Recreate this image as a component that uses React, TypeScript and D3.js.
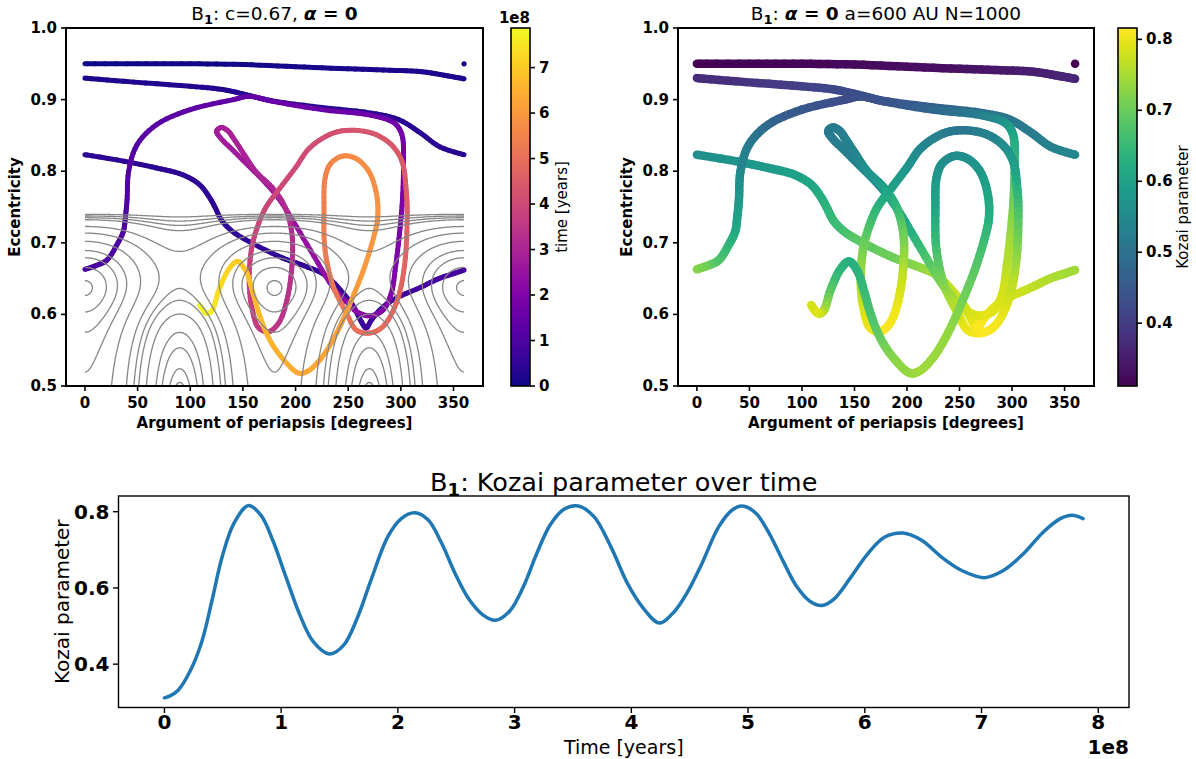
import React from "react";
import * as d3 from "d3";

// ---------------- Data ----------------
// Bottom panel: Kozai parameter vs time (time in units of 1e8 years)
const kozaiTime = [0, 0.043, 0.116, 0.217, 0.32, 0.406, 0.493, 0.594, 0.719, 0.826, 0.928, 1.043, 1.159, 1.275, 1.414, 1.536, 1.652, 1.768, 1.913, 2.029, 2.145, 2.26, 2.377, 2.493, 2.609, 2.725, 2.835, 2.957, 3.072, 3.188, 3.304, 3.42, 3.545, 3.68, 3.826, 3.97, 4.1, 4.241, 4.371, 4.487, 4.603, 4.748, 4.864, 4.951, 5.067, 5.183, 5.299, 5.414, 5.53, 5.632, 5.733, 5.878, 6.023, 6.168, 6.328, 6.487, 6.661, 6.835, 7.023, 7.183, 7.357, 7.53, 7.675, 7.777, 7.87];
const kozaiValue = [0.3115, 0.316, 0.331, 0.38, 0.459, 0.565, 0.68, 0.769, 0.816, 0.791, 0.725, 0.627, 0.53, 0.459, 0.4265, 0.45, 0.521, 0.619, 0.734, 0.782, 0.797, 0.778, 0.716, 0.636, 0.57, 0.53, 0.515, 0.539, 0.601, 0.689, 0.765, 0.806, 0.815, 0.787, 0.707, 0.61, 0.548, 0.508, 0.539, 0.592, 0.663, 0.76, 0.8045, 0.815, 0.796, 0.742, 0.671, 0.605, 0.565, 0.554, 0.57, 0.627, 0.689, 0.733, 0.744, 0.725, 0.68, 0.645, 0.627, 0.645, 0.689, 0.747, 0.782, 0.791, 0.782];

// Top panels: trajectory [argument of periapsis (deg), eccentricity, time (1e8 yr)]
const startPoint = [360, 0.95, 0];
const pass1 = [[0, 0.95, 0.01], [50, 0.95, 0.03], [100, 0.95, 0.05], [150, 0.949, 0.08], [200, 0.946, 0.1], [250, 0.943, 0.12], [290, 0.941, 0.14], [320, 0.939, 0.16], [345, 0.933, 0.175], [360, 0.929, 0.19]];
const pass2 = [[0, 0.93, 0.2], [37, 0.9255, 0.22], [100, 0.9185, 0.25], [131, 0.914, 0.27], [150, 0.908, 0.28], [175, 0.899, 0.295], [225, 0.889, 0.32], [272, 0.881, 0.345], [298, 0.872, 0.36], [319, 0.853, 0.37], [337, 0.834, 0.38], [360, 0.823, 0.39]];
const pass3 = [[0, 0.823, 0.4], [37, 0.814, 0.41], [68, 0.8045, 0.42], [93, 0.795, 0.43], [109, 0.781, 0.44], [118.6, 0.7626, 0.45], [124, 0.748, 0.46], [130, 0.731, 0.47], [140, 0.716, 0.48], [156, 0.7016, 0.5], [187.5, 0.679, 0.52], [208, 0.668, 0.54], [228, 0.655, 0.57], [245, 0.63, 0.6], [255, 0.611, 0.63], [262, 0.591, 0.66], [267, 0.581, 0.7], [272, 0.592, 0.74], [280, 0.606, 0.78], [292, 0.62, 0.82], [319, 0.638, 0.86], [336, 0.65, 0.88], [350, 0.657, 0.89], [360, 0.662, 0.9]];
const pass4 = [
  [0, 0.663, 0.92], [12, 0.669, 0.95], [21, 0.676, 0.98], [31, 0.699, 1.02], [36.5, 0.716, 1.05], [38.5, 0.737, 1.07], [40, 0.76, 1.09], [41.5, 0.8, 1.13], [49.5, 0.837, 1.17], [68, 0.865, 1.23], [100, 0.886, 1.31], [141, 0.9, 1.41], [156, 0.9045, 1.45], [178, 0.8976, 1.5], [225, 0.886, 1.58], [272, 0.878, 1.66], [294, 0.867, 1.71], [301, 0.851, 1.75], [302.5, 0.814, 1.8], [301.5, 0.76, 1.87], [298.7, 0.713, 1.92], [295, 0.667, 1.98], [290.8, 0.629, 2.03], [283, 0.606, 2.08], [270.4, 0.598, 2.15], [257.8, 0.604, 2.22], [250, 0.615, 2.27], [236, 0.637, 2.35], [214, 0.69, 2.45], [195, 0.737, 2.54], [184, 0.762, 2.59], [170, 0.786, 2.64], [155, 0.808, 2.69], [140, 0.83, 2.74], [129, 0.846, 2.78], [125, 0.856, 2.81], [129.5, 0.861, 2.84], [136, 0.856, 2.87], [141, 0.846, 2.9], [150, 0.826, 2.95], [162, 0.8, 3.0], [178, 0.777, 3.06], [190, 0.75, 3.12], [196.5, 0.713, 3.2], [196.5, 0.667, 3.28], [191.8, 0.62, 3.38], [184, 0.588, 3.45], [174.6, 0.576, 3.53], [165, 0.581, 3.6], [159, 0.606, 3.67], [156, 0.643, 3.74], [158, 0.69, 3.81], [164, 0.723, 3.87], [172, 0.75, 3.92], [185, 0.776, 3.98], [200, 0.805, 4.04], [213, 0.832, 4.1], [232, 0.851, 4.17], [248, 0.857, 4.23], [273, 0.853, 4.32], [291, 0.837, 4.4], [301, 0.814, 4.47], [305, 0.775, 4.55], [306, 0.737, 4.62], [303.4, 0.667, 4.72], [295.6, 0.6155, 4.8], [283, 0.583, 4.88], [270.4, 0.574, 4.95], [257.8, 0.578, 5.02], [248.4, 0.6015, 5.1], [235.8, 0.639, 5.2], [228, 0.69, 5.3], [227, 0.749, 5.4], [228, 0.79, 5.47], [233, 0.81, 5.53], [244.4, 0.821, 5.62], [257, 0.818, 5.68], [269.5, 0.8, 5.75], [277, 0.767, 5.82], [278, 0.735, 5.87], [275.1, 0.713, 5.92], [265.7, 0.667, 6.0], [253.1, 0.62, 6.08], [239, 0.574, 6.17], [225, 0.54, 6.25], [212, 0.521, 6.31], [203, 0.518, 6.36], [187.5, 0.5386, 6.47], [175, 0.5657, 6.57], [165.5, 0.6, 6.68], [159.2, 0.632, 6.78], [153, 0.66, 6.88], [145, 0.674, 7.0], [137.2, 0.6644, 7.1], [127.8, 0.6364, 7.3], [120, 0.6038, 7.55], [115.2, 0.6015, 7.68], [108.9, 0.6131, 7.87]
];
const passes = [pass1, pass2, pass3, pass4];

// Ticks
const omegaTicks = [0, 50, 100, 150, 200, 250, 300, 350];
const eccTicks = [0.5, 0.6, 0.7, 0.8, 0.9, 1.0];
const timeCbTicks = [0, 1, 2, 3, 4, 5, 6, 7];
const kozaiCbTicks = [0.4, 0.5, 0.6, 0.7, 0.8];
const timeTicks = [0, 1, 2, 3, 4, 5, 6, 7, 8];
const kozaiTicks = [0.4, 0.6, 0.8];

// Background phase-portrait (gray) curves: levels for librating ovals, upper circulating and lower circulating curves
const ovalLevels = [0.0015, 0.012, 0.026, 0.04, 0.062, 0.086];
const upperLevels = [0.108, 0.133, 0.141, 0.148, 0.155];
const lowerLevels = [0.0995, 0.108, 0.121, 0.135, 0.142, 0.148, 0.1505];
const portraitTheta = 0.4489; // c^2
const portraitE0 = 0.637;
const portraitSaddle = 0.655;

// ---------------- Layout ----------------
const FONT = "'DejaVu Sans', sans-serif";
const LX0 = 66, LX1 = 483, RX0 = 678, RX1 = 1094, TY0 = 28, TY1 = 386;
const LCB0 = 511, LCB1 = 530, RCB0 = 1118, RCB1 = 1137;
const BX0 = 118.5, BX1 = 1129, BY0 = 496, BY1 = 707.5;

// ---------------- Helpers ----------------
function pad(ext: number[]) {
  const r = ext[1] - ext[0];
  return [ext[0] - 0.05 * r, ext[1] + 0.05 * r];
}

function crBezier(p0: number[], p1: number[], p2: number[], p3: number[]) {
  const alpha = 0.5;
  const d01 = Math.hypot(p1[0] - p0[0], p1[1] - p0[1]);
  const d12 = Math.hypot(p2[0] - p1[0], p2[1] - p1[1]);
  const d23 = Math.hypot(p3[0] - p2[0], p3[1] - p2[1]);
  const l01a = Math.pow(d01, alpha), l01_2a = Math.pow(d01, 2 * alpha);
  const l12a = Math.pow(d12, alpha), l12_2a = Math.pow(d12, 2 * alpha);
  const l23a = Math.pow(d23, alpha), l23_2a = Math.pow(d23, 2 * alpha);
  let c1 = [p1[0], p1[1]];
  if (l01a > 1e-9) {
    const a = 2 * l01_2a + 3 * l01a * l12a + l12_2a;
    const n = 3 * l01a * (l01a + l12a);
    c1 = [(p1[0] * a - p0[0] * l12_2a + p2[0] * l01_2a) / n, (p1[1] * a - p0[1] * l12_2a + p2[1] * l01_2a) / n];
  }
  let c2 = [p2[0], p2[1]];
  if (l23a > 1e-9) {
    const b = 2 * l23_2a + 3 * l23a * l12a + l12_2a;
    const m = 3 * l23a * (l23a + l12a);
    c2 = [(p2[0] * b + p1[0] * l23_2a - p3[0] * l12_2a) / m, (p2[1] * b + p1[1] * l23_2a - p3[1] * l12_2a) / m];
  }
  return [p1, c1, c2, p2];
}

function cubicAt(b: number[][], s: number) {
  const u = 1 - s;
  const w0 = u * u * u, w1 = 3 * u * u * s, w2 = 3 * u * s * s, w3 = s * s * s;
  return [
    w0 * b[0][0] + w1 * b[1][0] + w2 * b[2][0] + w3 * b[3][0],
    w0 * b[0][1] + w1 * b[1][1] + w2 * b[2][1] + w3 * b[3][1],
  ];
}

function trajectoryPieces(xs: any, ys: any, colorOf: (t: number) => string, sub = 6) {
  const out: { d: string; c: string }[] = [];
  for (const pass of passes) {
    const pts = pass.map((p) => [xs(p[0]), ys(p[1])]);
    for (let i = 0; i < pts.length - 1; i++) {
      const p0 = i > 0 ? pts[i - 1] : pts[i];
      const p3 = i < pts.length - 2 ? pts[i + 2] : pts[i + 1];
      const bz = crBezier(p0, pts[i], pts[i + 1], p3);
      for (let k = 0; k < sub; k++) {
        const q0 = cubicAt(bz, k / sub);
        const q1 = cubicAt(bz, (k + 1) / sub);
        const t = pass[i][2] + ((pass[i + 1][2] - pass[i][2]) * (k + 0.5)) / sub;
        out.push({ d: `M${q0[0].toFixed(2)},${q0[1].toFixed(2)}L${q1[0].toFixed(2)},${q1[1].toFixed(2)}`, c: colorOf(t) });
      }
    }
  }
  return out;
}

// phase-portrait model for the gray background curves
function kozaiWeight(e: number) {
  const x = Math.max(e, 0.565);
  const s = 1 - x * x;
  return Math.max(0, (x * x * (s - portraitTheta)) / s);
}
function portrait(w: number, e: number) {
  const d = e - portraitE0;
  const p = d >= 0 ? 14.67 * d * d : (14 * d * d) / (1 + (d * d) / 0.0036);
  const sw = Math.sin((w * Math.PI) / 180);
  return p + kozaiWeight(e) * sw * sw;
}

// ---------------- Derived ----------------
const allOmega = passes.flat().map((p) => p[0]);
const omegaDomain = pad(d3.extent(allOmega) as number[]);
const tMax = d3.max(kozaiTime) as number;
const kExt = d3.extent(kozaiValue) as number[];
const kozaiAt = d3.scaleLinear().domain(kozaiTime).range(kozaiValue).clamp(true);
const plasmaT = (t: number) => d3.interpolatePlasma(t / tMax);
const viridisK = (k: number) => d3.interpolateViridis((k - kExt[0]) / (kExt[1] - kExt[0]));

// grid for contours
const GW0 = -6, GDW = 1, GNX = 373;
const GE0 = 0.48, GDE = 0.0015, GNY = 191;
const gridVals: number[] = new Array(GNX * GNY);
for (let j = 0; j < GNY; j++) {
  for (let i = 0; i < GNX; i++) {
    gridVals[i + j * GNX] = portrait(GW0 + i * GDW, GE0 + j * GDE);
  }
}
const contourGen = d3.contours().size([GNX, GNY]).smooth(true);

function contourPath(levels: number[], xs: any, ys: any) {
  const sets = contourGen.thresholds(levels)(gridVals);
  let d = "";
  for (const set of sets) {
    for (const poly of set.coordinates) {
      for (const ring of poly) {
        ring.forEach((pt: number[], idx: number) => {
          const x = xs(GW0 + (pt[0] - 0.5) * GDW);
          const y = ys(GE0 + (pt[1] - 0.5) * GDE);
          d += (idx === 0 ? "M" : "L") + x.toFixed(2) + "," + y.toFixed(2);
        });
      }
    }
  }
  return d;
}

// ---------------- Component ----------------
export default function App() {
  const xL = d3.scaleLinear().domain(omegaDomain).range([LX0, LX1]);
  const xR = d3.scaleLinear().domain(omegaDomain).range([RX0, RX1]);
  const yT = d3.scaleLinear().domain([eccTicks[0], eccTicks[eccTicks.length - 1]]).range([TY1, TY0]);
  const yTimeCb = d3.scaleLinear().domain([0, tMax]).range([TY1, TY0]);
  const yKozCb = d3.scaleLinear().domain(kExt).range([TY1, TY0]);
  const xB = d3.scaleLinear().domain(pad([0, tMax])).range([BX0, BX1]);
  const yB = d3.scaleLinear().domain(pad(kExt)).range([BY1, BY0]);

  const leftPieces = trajectoryPieces(xL, yT, plasmaT, 6);
  const rightPieces = trajectoryPieces(xR, yT, (t) => viridisK(kozaiAt(t)), 6);
  const grayOval = contourPath(ovalLevels, xL, yT);
  const grayUpper = contourPath(upperLevels, xL, yT);
  const grayLower = contourPath(lowerLevels, xL, yT);

  const kozaiLine = d3
    .line<number>()
    .x((_, i) => xB(kozaiTime[i]))
    .y((d) => yB(d))
    .curve(d3.curveCatmullRom.alpha(0.5))(kozaiValue) as string;

  const stops = d3.range(0, 1.0001, 0.05);
  const gx0 = xL(0), gx1 = xL(360);

  const panelAxes = (x0: number, x1: number, xs: any) => (
    <g fontFamily={FONT} fontWeight="bold" fontSize={15} fill="#000">
      {eccTicks.map((v) => (
        <g key={"y" + v}>
          <line x1={x0 - 5} x2={x0} y1={yT(v)} y2={yT(v)} stroke="#000" strokeWidth={1.6} />
          <text x={x0 - 9} y={yT(v)} textAnchor="end" dominantBaseline="central">{v.toFixed(1)}</text>
        </g>
      ))}
      {omegaTicks.map((v) => (
        <g key={"x" + v}>
          <line x1={xs(v)} x2={xs(v)} y1={TY1} y2={TY1 + 5} stroke="#000" strokeWidth={1.6} />
          <text x={xs(v)} y={408} textAnchor="middle">{v}</text>
        </g>
      ))}
      <text x={(x0 + x1) / 2} y={428} textAnchor="middle">Argument of periapsis [degrees]</text>
      <rect x={x0} y={TY0} width={x1 - x0} height={TY1 - TY0} fill="none" stroke="#000" strokeWidth={2} />
    </g>
  );

  return (
    <svg width={1196} height={759} viewBox="0 0 1196 759" style={{ position: "fixed", left: 0, top: 0, background: "#fff" }}>
      <defs>
        <linearGradient id="gradPlasma" x1="0" y1="1" x2="0" y2="0">
          {stops.map((s) => (
            <stop key={s} offset={s} stopColor={d3.interpolatePlasma(s)} />
          ))}
        </linearGradient>
        <linearGradient id="gradViridis" x1="0" y1="1" x2="0" y2="0">
          {stops.map((s) => (
            <stop key={s} offset={s} stopColor={d3.interpolateViridis(s)} />
          ))}
        </linearGradient>
        <clipPath id="clipGray">
          <rect x={gx0} y={yT(0.743)} width={gx1 - gx0} height={yT(0.5) - yT(0.743)} />
        </clipPath>
        <clipPath id="clipUpper">
          <rect x={gx0} y={yT(0.743)} width={gx1 - gx0} height={yT(portraitSaddle) - yT(0.743)} />
        </clipPath>
        <clipPath id="clipLower">
          <rect x={gx0} y={yT(portraitSaddle)} width={gx1 - gx0} height={yT(0.5) - yT(portraitSaddle)} />
        </clipPath>
      </defs>
      <rect x={0} y={0} width={1196} height={759} fill="#fff" />

      {/* ---------- Left panel ---------- */}
      <text x={(LX0 + LX1) / 2} y={20} textAnchor="middle" fontFamily={FONT} fontSize={18.5}>
        {"B"}
        <tspan fontSize={13} fontWeight="bold" dy={4}>1</tspan>
        <tspan dy={-4}>{": c=0.67, "}</tspan>
        <tspan fontWeight="bold" fontStyle="italic">{"α"}</tspan>
        <tspan fontWeight="bold">{" = 0"}</tspan>
      </text>
      <g strokeLinecap="round" fill="none" strokeWidth={5}>
        {leftPieces.map((p, i) => (
          <path key={i} d={p.d} stroke={p.c} />
        ))}
      </g>
      <circle cx={xL(startPoint[0])} cy={yT(startPoint[1])} r={2.6} fill={plasmaT(startPoint[2])} />
      <g fill="none" stroke="#878787" strokeWidth={1.3}>
        <path d={grayOval} clipPath="url(#clipGray)" />
        <path d={grayUpper} clipPath="url(#clipUpper)" />
        <path d={grayLower} clipPath="url(#clipLower)" />
      </g>
      {panelAxes(LX0, LX1, xL)}
      <text transform={`translate(20,${(TY0 + TY1) / 2}) rotate(-90)`} textAnchor="middle" fontFamily={FONT} fontWeight="bold" fontSize={15}>Eccentricity</text>

      {/* left colorbar */}
      <rect x={LCB0} y={TY0} width={LCB1 - LCB0} height={TY1 - TY0} fill="url(#gradPlasma)" stroke="#000" strokeWidth={1.6} />
      <g fontFamily={FONT} fontWeight="bold" fontSize={15}>
        {timeCbTicks.map((v) => (
          <g key={v}>
            <line x1={LCB1} x2={LCB1 + 5} y1={yTimeCb(v)} y2={yTimeCb(v)} stroke="#000" strokeWidth={1.6} />
            <text x={LCB1 + 9} y={yTimeCb(v)} dominantBaseline="central">{v}</text>
          </g>
        ))}
        <text x={LCB1} y={23} textAnchor="end">1e8</text>
      </g>
      <text transform={`translate(567,${(TY0 + TY1) / 2}) rotate(-90)`} textAnchor="middle" fontFamily={FONT} fontSize={15}>time [years]</text>

      {/* ---------- Right panel ---------- */}
      <text x={(RX0 + RX1) / 2} y={20} textAnchor="middle" fontFamily={FONT} fontSize={18.5}>
        {"B"}
        <tspan fontSize={13} fontWeight="bold" dy={4}>1</tspan>
        <tspan dy={-4}>{": "}</tspan>
        <tspan fontWeight="bold" fontStyle="italic">{"α"}</tspan>
        <tspan fontWeight="bold">{" = 0"}</tspan>
        <tspan>{" a=600 AU N=1000"}</tspan>
      </text>
      <g strokeLinecap="round" fill="none" strokeWidth={8.5}>
        {rightPieces.map((p, i) => (
          <path key={i} d={p.d} stroke={p.c} />
        ))}
      </g>
      <circle cx={xR(startPoint[0])} cy={yT(startPoint[1])} r={4.3} fill={viridisK(kozaiAt(startPoint[2]))} />
      {panelAxes(RX0, RX1, xR)}
      <text transform={`translate(632,${(TY0 + TY1) / 2}) rotate(-90)`} textAnchor="middle" fontFamily={FONT} fontWeight="bold" fontSize={15}>Eccentricity</text>

      {/* right colorbar */}
      <rect x={RCB0} y={TY0} width={RCB1 - RCB0} height={TY1 - TY0} fill="url(#gradViridis)" stroke="#000" strokeWidth={1.6} />
      <g fontFamily={FONT} fontWeight="bold" fontSize={15}>
        {kozaiCbTicks.map((v) => (
          <g key={v}>
            <line x1={RCB1} x2={RCB1 + 5} y1={yKozCb(v)} y2={yKozCb(v)} stroke="#000" strokeWidth={1.6} />
            <text x={RCB1 + 9} y={yKozCb(v)} dominantBaseline="central">{v.toFixed(1)}</text>
          </g>
        ))}
      </g>
      <text transform={`translate(1188,${(TY0 + TY1) / 2}) rotate(-90)`} textAnchor="middle" fontFamily={FONT} fontSize={15}>Kozai parameter</text>

      {/* ---------- Bottom panel ---------- */}
      <text x={(BX0 + BX1) / 2} y={491} textAnchor="middle" fontFamily={FONT} fontSize={25.5}>
        {"B"}
        <tspan fontSize={18} fontWeight="bold" dy={5}>1</tspan>
        <tspan dy={-5}>{": Kozai parameter over time"}</tspan>
      </text>
      <path d={kozaiLine} fill="none" stroke="#1f77b4" strokeWidth={3.5} strokeLinejoin="round" strokeLinecap="round" />
      <rect x={BX0} y={BY0} width={BX1 - BX0} height={BY1 - BY0} fill="none" stroke="#000" strokeWidth={1.4} />
      <g fontFamily={FONT} fontWeight="bold" fontSize={20}>
        {kozaiTicks.map((v) => (
          <g key={v}>
            <line x1={BX0 - 5.5} x2={BX0} y1={yB(v)} y2={yB(v)} stroke="#000" strokeWidth={1.4} />
            <text x={BX0 - 9} y={yB(v)} textAnchor="end" dominantBaseline="central">{v.toFixed(1)}</text>
          </g>
        ))}
        {timeTicks.map((v) => (
          <g key={v}>
            <line x1={xB(v)} x2={xB(v)} y1={BY1} y2={BY1 + 5.5} stroke="#000" strokeWidth={1.4} />
            <text x={xB(v)} y={729} textAnchor="middle">{v}</text>
          </g>
        ))}
        <text x={BX1} y={754} textAnchor="end">1e8</text>
      </g>
      <text x={(BX0 + BX1) / 2} y={754} textAnchor="middle" fontFamily={FONT} fontSize={19}>Time [years]</text>
      <text transform={`translate(69,${(BY0 + BY1) / 2}) rotate(-90)`} textAnchor="middle" fontFamily={FONT} fontSize={20}>Kozai parameter</text>
    </svg>
  );
}
